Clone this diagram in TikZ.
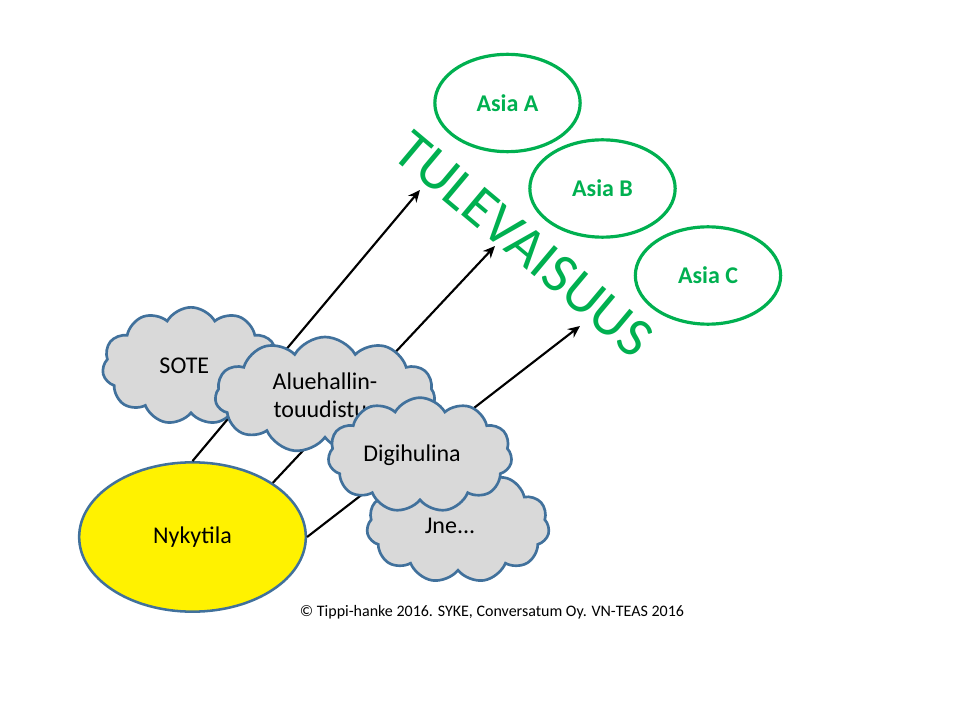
\documentclass[tikz,border=0pt]{standalone}
\usepackage{fontspec}
\setmainfont{Carlito}
\usetikzlibrary{arrows.meta,shapes.geometric,shapes.symbols}
\definecolor{futuregreen}{RGB}{0,176,80}
\definecolor{outlineblue}{RGB}{65,113,156}
\definecolor{cloudgray}{RGB}{217,217,217}

\begin{document}
\begin{tikzpicture}[
    x=0.75pt, y=-0.75pt,
    present/.style={ellipse, draw=outlineblue, fill=yellow, line width=1.9pt, minimum width=170pt, minimum height=112pt, font=\fontsize{18}{21}\selectfont},
    topic/.style={ellipse, draw=futuregreen, line width=2.4pt, minimum width=109pt, minimum height=73pt, text=futuregreen, font=\fontsize{18}{21}\selectfont\bfseries},
    issue/.style={cloud, cloud puffs=11, cloud puff arc=120, cloud ignores aspect, draw=outlineblue, fill=cloudgray, line width=2pt, align=center, inner sep=0pt, font=\fontsize{18}{21}\selectfont},
    arrow/.style={-{Stealth[length=9pt,width=8pt]}, line width=1.6pt},
    bigword/.style={text=futuregreen, inner sep=0pt, font=\fontsize{42.5}{50}\selectfont},
]
\useasboundingbox (0,0) rectangle (960,720);

% Today
\node[present] (nyky) at (192.5,537) {Nykytila};

% Arrow ends
\coordinate (tipA) at (420,190);
\coordinate (tipB) at (495,246);
\coordinate (tipC) at (580,326);

% Arrows
\draw[arrow] (nyky.north) -- (tipA);
\draw[arrow] (nyky.34) -- (tipB);
\draw[arrow] (nyky.east) -- (tipC);

% Clouds
\node[issue, minimum width=133pt, minimum height=88pt] (sote) at (191,366) {SOTE\hspace{10pt}};
\node[issue, minimum width=165pt, minimum height=87pt] (alue) at (325,395) {Aluehallin-\hspace{10pt}\\touudistus\hspace{10pt}};
\node[issue, minimum width=137pt, minimum height=85pt] (jne) at (458,526) {Jne...\hspace{12pt}};
\node[issue, minimum width=138pt, minimum height=86pt] (digi) at (420,455) {Digihulina\hspace{12pt}};

% Future
\node[bigword, rotate=-40] (future) at (524,244) {TULEVAISUUS};
\node[topic] (asiaA) at (507.5,103) {Asia A};
\node[topic] (asiaB) at (602.5,188.5) {Asia B};
\node[topic] (asiaC) at (708,275.5) {Asia C};

% Credit
\node[font=\fontsize{12}{14}\selectfont] (credit) at (492,612) {© Tippi-hanke 2016. SYKE, Conversatum Oy. VN-TEAS 2016};
\end{tikzpicture}
\end{document}
